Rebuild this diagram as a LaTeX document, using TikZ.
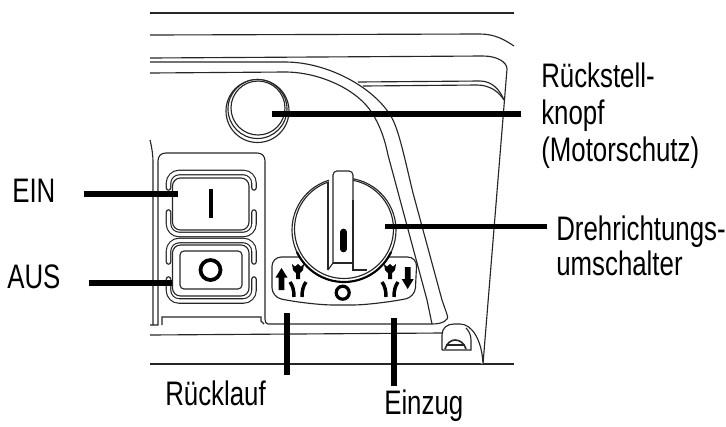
\documentclass[tikz,border=0pt]{standalone}
\usepackage{fontspec}
\setmainfont[FakeStretch=0.76]{Liberation Sans}
\tikzset{
  contour/.style={line width=.85pt,draw=black!85},
  ring/.style={line width=.85pt,draw=black!85,double=white,double distance=2.5pt,line cap=round,rounded corners=8pt},
  leader/.style={line width=4.2pt,draw=black},
  label/.style={inner sep=0pt,font=\fontsize{25.5}{27.75}\selectfont,align=left}
}
\begin{document}
\begin{tikzpicture}[x=.75pt,y=-.75pt]
\useasboundingbox (0,0) rectangle (726,426);
% housing
\draw[contour] (150,13) -- (514,13);
\draw[contour] (150,35) -- (480,34) .. controls (495,34) and (505,40) .. (514,46);
\draw[contour] (150,58) -- (483,56) .. controls (497,56) and (507,62) .. (507,69) -- (483,364);
\draw[contour] (150,62) -- (285,62) .. controls (330,62) and (378,90) .. (393,120) .. controls (400,135) and (405,160) .. (413,193) -- (442,300) .. controls (446,312) and (449,318) .. (447,319) .. controls (444,323) and (438,324) .. (432,324) -- (268,324) .. controls (266,324) and (265,322) .. (265,319) -- (265,161) .. controls (265,156) and (262,153) .. (257,153) -- (166,153) .. controls (161,153) and (158,156) .. (158,161) -- (158,325) -- (150,325);
\draw[contour] (150,73) -- (285,72) .. controls (320,72) and (358,90) .. (372,113) .. controls (380,125) and (385,140) .. (388,155) -- (427,300) -- (432,324);
\draw[contour] (358,82) -- (480,81) .. controls (492,81) and (500,90) .. (504,100);
\draw[contour] (363,86) -- (477,85) .. controls (490,85) and (499,92) .. (504,100);
\draw[contour] (150,140) .. controls (152,148) and (153,155) .. (153,163) -- (153,325);
\draw[contour] (162,325) -- (162,317) -- (261,317) -- (261,321) -- (264,324);
\draw[contour] (150,335) -- (442,333);
\draw[contour] (150,364) -- (514,364);
% cover screw
\draw[contour,fill=white] (442,350) -- (442,335) .. controls (442,328) and (447,324) .. (454,324) -- (460,324) .. controls (472,324) and (482,340) .. (483,364);
\draw[contour] (442,350) -- (471,350) -- (471,340) .. controls (471,335) and (469,331) .. (466,328);
\draw[contour,line width=1.2pt] (445,349) .. controls (447,343) and (451,340) .. (455,340) .. controls (460,340) and (464,343) .. (466,349);
\draw[contour] (446,345) -- (465,345);
% reset knob
\draw[contour] (257.5,111) circle (31.5);
\draw[contour,fill=white] (257.5,109) circle (29.5);
\draw[contour,fill=white] (258,108) circle (27);
% rocker switch
\draw[ring] (254,188) -- (254,172.5) -- (168.5,172.5) -- (168.5,188);
\draw[ring] (168.5,212) -- (168.5,234.5) -- (254,234.5) -- (254,212);
\draw[ring] (168.5,262) -- (168.5,240.5) -- (254,240.5) -- (254,262);
\draw[ring] (168.5,279) -- (168.5,301) -- (254,301) -- (254,279);
\draw[contour,rounded corners=6pt] (172.5,178) rectangle (249,230);
\draw[contour,rounded corners=6pt] (172.5,245) rectangle (249,296);
\draw[contour,rounded corners=3pt] (180,251) rectangle (242,289);
\draw[line width=3.2pt] (210.7,189) -- (210.7,218);
\draw[line width=2.8pt] (210.5,270) circle (10);
% selector plate
\draw[contour,fill=white,rounded corners=7pt] (272,257) -- (417,257) -- (415,297) .. controls (390,302) and (365,305) .. (343,305) .. controls (320,305) and (295,302) .. (272,297) -- cycle;
\draw[line width=2.4pt] (342.7,292.7) circle (6.5);
\fill (281.5,268) -- (287.5,277.5) -- (284.3,277.5) -- (284.3,290) -- (278.7,290) -- (278.7,277.5) -- (275.5,277.5) -- cycle;
\fill (407.7,289) -- (413.7,279) -- (410.5,279) -- (410.5,267) -- (404.9,267) -- (404.9,279) -- (401.7,279) -- cycle;
\foreach \cx in {298,390} {
  \fill (\cx-6,264) -- (\cx-3,266.5) -- (\cx,264) -- (\cx+3,266.5) -- (\cx+6,264) -- (\cx+5,270) -- (\cx+2,273) -- (\cx+2,279) -- (\cx-2,279) -- (\cx-2,273) -- (\cx-5,270) -- cycle;
  \draw[line width=2.6pt] (\cx-8,282) .. controls (\cx-5,286) and (\cx-4,291) .. (\cx-4,297);
  \draw[line width=2.6pt] (\cx+8,282) .. controls (\cx+5,286) and (\cx+4,291) .. (\cx+4,297);
}
% selector knob
\draw[contour,fill=white] (344,230) circle (52);
\draw[contour] (344,229) circle (49.5);
\draw[line width=1.6pt] (344,230) ++(25:52) arc (25:155:52);
\fill[white] (329,175) rectangle (353,269);
\draw[contour] (328,182) -- (328,270);
\draw[contour] (353,263) -- (353,270) -- (367,270);
\draw[contour] (333,263) -- (328,270);
\draw[contour,rounded corners=3pt] (333,263) -- (333,171) -- (353,171) -- (353,200);
\draw[contour] (353,200) -- (353,263) -- (333,263);
\draw[line width=5pt,line cap=round] (343.5,232) -- (343.5,249);
% labels
\node[label,anchor=base west] (ein) at (12,202) {EIN};
\node[label,anchor=base west] (aus) at (7,288) {AUS};
\node[label,anchor=north west] (rueckstell) at (541,63) {Rückstell-\\knopf\\(Motorschutz)};
\node[label,anchor=north west] (dreh) at (556,216) {Drehrichtungs-\\[-1.5pt]umschalter};
\node[label,anchor=base west] (ruecklauf) at (165,405) {Rücklauf};
\node[label,anchor=base west] (einzug) at (384,414) {Einzug};
% leaders
\coordinate (ein-end) at (178,194);
\coordinate (aus-end) at (172,283);
\coordinate (rueckstell-end) at (272,114);
\coordinate (dreh-end) at (385,226.5);
\coordinate (ruecklauf-end) at (287,313);
\coordinate (einzug-end) at (394,318);
\draw[leader] (ein.east |- ein-end) ++(28,0) -- (ein-end);
\draw[leader] (aus.east |- aus-end) ++(28,0) -- (aus-end);
\draw[leader] (rueckstell.west |- rueckstell-end) ++(-20,0) -- (rueckstell-end);
\draw[leader] (dreh.west |- dreh-end) ++(-9,0) -- (dreh-end);
\draw[leader] (ruecklauf-end |- ruecklauf.north) ++(0,-5) -- (ruecklauf-end);
\draw[leader] (einzug-end |- einzug.north) ++(0,-3) -- (einzug-end);
\end{tikzpicture}
\end{document}
